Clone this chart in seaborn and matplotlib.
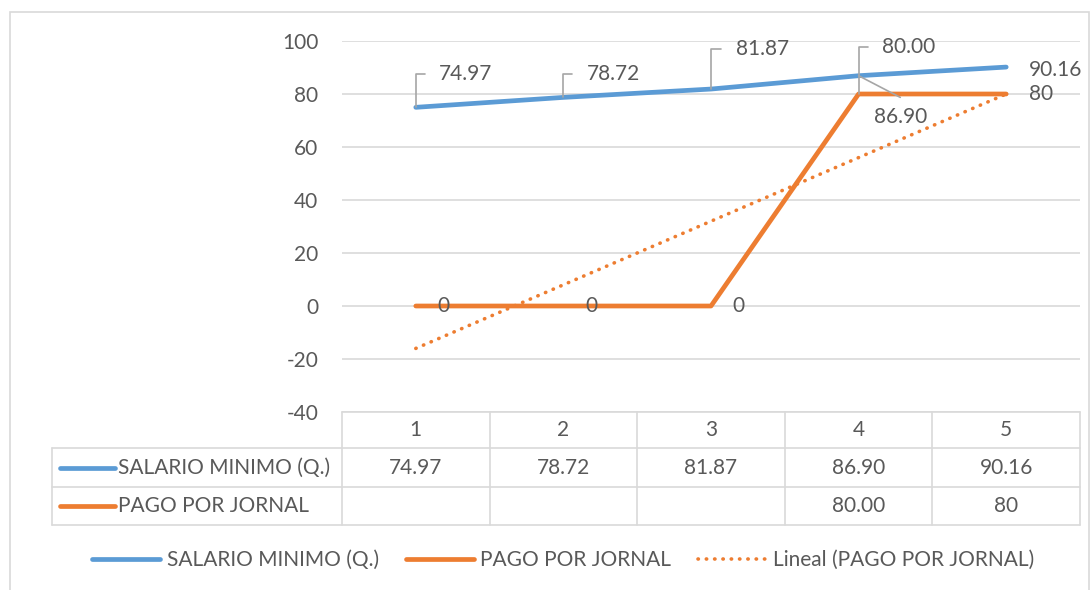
import numpy as np
import pandas as pd
import matplotlib
matplotlib.use("Agg")
import matplotlib.pyplot as plt
import seaborn as sns
from matplotlib.lines import Line2D
from matplotlib.patches import Rectangle
from matplotlib.transforms import blended_transform_factory

# data
periodos = [1, 2, 3, 4, 5]
salario_minimo = [74.97, 78.72, 81.87, 86.90, 90.16]
pago_jornal = [0, 0, 0, 80, 80]
salario_txt = ["74.97", "78.72", "81.87", "86.90", "90.16"]
pago_txt = ["0", "0", "0", "80.00", "80"]
pago_tabla = ["", "", "", "80.00", "80"]
y_ticks = [-40, -20, 0, 20, 40, 60, 80, 100]

AZUL = "#5B9BD5"
NARANJA = "#ED7D31"
GRIS_TXT = "#595959"
GRIS_LIN = "#D9D9D9"
LEADER = "#A6A6A6"
FS = 15
DOTS = (0, (0.1, 2.2))

sns.set_style("white")
plt.rcParams["font.family"] = ["Lato", "DejaVu Sans"]
plt.rcParams["axes.unicode_minus"] = False

df = pd.DataFrame({"periodo": periodos, "salario": salario_minimo, "pago": pago_jornal})

W, H = 1091, 590
fig = plt.figure(figsize=(W / 100, H / 100), dpi=100)
ax = fig.add_axes([342 / W, 1 - 412 / H, 738 / W, 371 / H])

sns.lineplot(data=df, x="periodo", y="salario", ax=ax, color=AZUL, lw=3.4,
             solid_capstyle="round")
sns.lineplot(data=df, x="periodo", y="pago", ax=ax, color=NARANJA, lw=3.4,
             solid_capstyle="round")
sns.regplot(data=df, x="periodo", y="pago", ax=ax, scatter=False, ci=None,
            truncate=True,
            line_kws=dict(color=NARANJA, lw=2.6, ls=DOTS, dash_capstyle="round"))

ax.set_xlim(0.5, 5.5)
ax.set_ylim(-40, 100)
ax.set_yticks(y_ticks)
ax.set_xticks([])
ax.set_xlabel("")
ax.set_ylabel("")
ax.yaxis.grid(True, color=GRIS_LIN, lw=1.2)
ax.set_axisbelow(True)
for s in ax.spines.values():
    s.set_visible(False)
ax.tick_params(axis="y", length=0, pad=17, labelsize=FS, labelcolor=GRIS_TXT)

# data labels
lbl = dict(fontsize=FS, color=GRIS_TXT, textcoords="offset points")
lead = dict(arrowstyle="-", color=LEADER, lw=1.2, shrinkB=0,
            connectionstyle="angle,angleA=0,angleB=90,rad=0", relpos=(0, 0.5))
offs_sal = [(36, 24), (36, 17), (37, 29), None, None]
for i, (x, y, t) in enumerate(zip(periodos, salario_minimo, salario_txt)):
    if i < 3:
        ax.annotate(t, xy=(x, y), xytext=offs_sal[i], ha="center", va="center",
                    arrowprops=dict(lead, shrinkA=8), **lbl)
    elif i == 3:
        ax.annotate(t, xy=(x, y), xytext=(30, -30), ha="center", va="center",
                    arrowprops=dict(arrowstyle="-", color=LEADER, lw=1.2,
                                    shrinkA=0, shrinkB=0, relpos=(0.5, 1.5)), **lbl)
    else:
        ax.annotate(t, xy=(x, y), xytext=(16, -2), ha="left", va="center", **lbl)
for i, (x, y, t) in enumerate(zip(periodos, pago_jornal, pago_txt)):
    if i < 3:
        ax.annotate(t, xy=(x, y), xytext=(20, 0), ha="center", va="center", **lbl)
    elif i == 3:
        ax.annotate(t, xy=(x, y), xytext=(36, 34), ha="center", va="center",
                    arrowprops=dict(lead, shrinkA=8), **lbl)
    else:
        ax.annotate(t, xy=(x, y), xytext=(16.5, 0), ha="left", va="center", **lbl)

# data table under the chart
tx = ax.get_xaxis_transform()
tf = blended_transform_factory(fig.transFigure, ax.transAxes)
fy = lambda p: (412 - p) / 371.0
rows = [412, 448, 487, 525]
lk = dict(color=GRIS_LIN, lw=1.2, clip_on=False)
ax.plot([0.5, 5.5], [fy(rows[0])] * 2, transform=tx, **lk)
for r in rows[1:]:
    fig.add_artist(Line2D([52 / W, 1080 / W], [fy(r)] * 2, transform=tf, **lk))
fig.add_artist(Line2D([52 / W] * 2, [fy(rows[1]), fy(rows[3])], transform=tf, **lk))
for k in range(6):
    ax.plot([0.5 + k] * 2, [fy(rows[0]), fy(rows[3])], transform=tx, **lk)

ytab = [(rows[j] + rows[j + 1]) / 2 for j in range(3)]
for x in periodos:
    ax.text(x, fy(ytab[0]), str(x), transform=tx, ha="center", va="center",
            fontsize=FS, color=GRIS_TXT)
for j, (vals, col, nombre) in enumerate([(salario_txt, AZUL, "SALARIO MINIMO (Q.)"),
                                          (pago_tabla, NARANJA, "PAGO POR JORNAL")]):
    yy = fy(ytab[j + 1])
    for x, t in zip(periodos, vals):
        ax.text(x, yy, t, transform=tx, ha="center", va="center", fontsize=FS,
                color=GRIS_TXT)
    fig.add_artist(Line2D([60 / W, 115 / W], [yy, yy], transform=tf, color=col,
                          lw=3.4, solid_capstyle="round"))
    fig.text(118 / W, yy, nombre, transform=tf, ha="left", va="center",
             fontsize=FS, color=GRIS_TXT)

# legend
handles = [Line2D([], [], color=AZUL, lw=3.4, solid_capstyle="round"),
           Line2D([], [], color=NARANJA, lw=3.4, solid_capstyle="round"),
           Line2D([], [], color=NARANJA, lw=2.6, ls=DOTS, dash_capstyle="round")]
names = ["SALARIO MINIMO (Q.)", "PAGO POR JORNAL", "Lineal (PAGO POR JORNAL)"]
fig.legend(handles, names, loc="center", bbox_to_anchor=(563 / W, 1 - 560 / H),
           ncol=3, frameon=False, fontsize=FS, labelcolor=GRIS_TXT,
           handlelength=3.27, handletextpad=0.3, columnspacing=1.3)

# chart border
fig.add_artist(Rectangle((10 / W, -0.1), 1079 / W, 1.1 - 12 / H,
                         transform=fig.transFigure, fill=False,
                         edgecolor=GRIS_LIN, lw=1.2))

fig.savefig("out.png", dpi=100)
